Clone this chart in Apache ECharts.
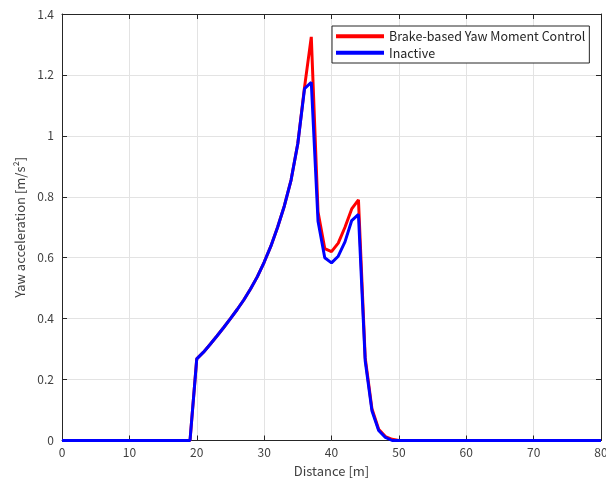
<!DOCTYPE html>
<html>
<head>
<meta charset="utf-8">
<style>
  html, body { margin: 0; padding: 0; background: #ffffff; }
  #chart { width: 606px; height: 484px; }
</style>
<script src="https://cdn.jsdelivr.net/npm/echarts@6/dist/echarts.min.js"></script>
</head>
<body>
<div id="chart"></div>
<script>
// Distance samples [m]
const distance = [0, 19,
  20, 21, 22, 23, 24, 25, 26, 27, 28, 29,
  30, 31, 32, 33, 34, 35, 36, 37, 38, 39,
  40, 41, 42, 43, 44, 45, 46, 47, 48, 49,
  50, 80];

// Yaw acceleration [m/s^2] with brake-based yaw moment control
const brakeControl = [0, 0,
  0.268, 0.290, 0.316, 0.343, 0.371, 0.400, 0.430, 0.462, 0.498, 0.538,
  0.585, 0.638, 0.700, 0.770, 0.855, 0.975, 1.160, 1.325, 0.750, 0.630,
  0.620, 0.648, 0.700, 0.760, 0.790, 0.272, 0.104, 0.037, 0.013, 0.004,
  0, 0];

// Yaw acceleration [m/s^2] with control inactive
const inactive = [0, 0,
  0.268, 0.290, 0.316, 0.343, 0.371, 0.400, 0.430, 0.462, 0.498, 0.538,
  0.585, 0.638, 0.700, 0.770, 0.855, 0.975, 1.155, 1.176, 0.720, 0.600,
  0.583, 0.605, 0.652, 0.722, 0.742, 0.262, 0.098, 0.033, 0.010, 0,
  0, 0];

const seriesNames = ['Brake-based Yaw Moment Control', 'Inactive'];

const FONT = '"Noto Sans CJK JP", "Noto Sans", sans-serif';
const AXIS_COLOR = '#262626';
const LABEL_COLOR = '#404040';
const GRID_COLOR = '#e3e3e3';

const pairs = (xs, ys) => xs.map((x, i) => [x, ys[i]]);

const chart = echarts.init(document.getElementById('chart'), null, { renderer: 'canvas' });

const baseAxis = {
  axisLine: { show: true, onZero: false, lineStyle: { color: AXIS_COLOR, width: 1 } },
  axisTick: { show: true, inside: true, length: 5, lineStyle: { color: AXIS_COLOR } },
  splitLine: { show: true, lineStyle: { color: GRID_COLOR, width: 1 } }
};

chart.setOption({
  animation: false,
  backgroundColor: '#ffffff',
  textStyle: { fontFamily: FONT },
  grid: { left: 62, right: 5, top: 14, bottom: 43.5, containLabel: false, outerBoundsMode: 'none' },
  legend: {
    data: seriesNames,
    orient: 'vertical',
    left: 332,
    top: 26,
    itemWidth: 48,
    itemHeight: 4,
    itemGap: 4,
    padding: [4, 4, 4, 4],
    borderColor: AXIS_COLOR,
    borderWidth: 1,
    backgroundColor: '#ffffff',
    icon: 'rect',
    textStyle: { fontFamily: FONT, fontSize: 12.5, color: '#262626' }
  },
  xAxis: [
    Object.assign({}, baseAxis, {
      type: 'value', min: 0, max: 80, interval: 10, position: 'bottom',
      name: 'Distance [m]', nameLocation: 'middle', nameGap: 24,
      nameTextStyle: { fontFamily: FONT, fontSize: 13, color: LABEL_COLOR },
      axisLabel: { color: LABEL_COLOR, fontSize: 12, margin: 6, fontFamily: FONT }
    }),
    Object.assign({}, baseAxis, {
      type: 'value', min: 0, max: 80, interval: 10, position: 'top',
      axisLabel: { show: false }, splitLine: { show: false }
    })
  ],
  yAxis: [
    Object.assign({}, baseAxis, {
      type: 'value', min: 0, max: 1.4, interval: 0.2, position: 'left',
      name: 'Yaw acceleration [m/s²]', nameLocation: 'middle', nameGap: 32, nameRotate: 90,
      nameTextStyle: { fontFamily: FONT, fontSize: 13, color: LABEL_COLOR },
      axisLabel: { color: LABEL_COLOR, fontSize: 12, margin: 8, fontFamily: FONT }
    }),
    Object.assign({}, baseAxis, {
      type: 'value', min: 0, max: 1.4, interval: 0.2, position: 'right',
      axisLabel: { show: false }, splitLine: { show: false }
    })
  ],
  series: [
    {
      name: seriesNames[0], type: 'line', xAxisIndex: 0, yAxisIndex: 0,
      data: pairs(distance, brakeControl),
      showSymbol: false, symbol: 'none',
      lineStyle: { color: '#ff0000', width: 3 },
      itemStyle: { color: '#ff0000' },
      z: 2
    },
    {
      name: seriesNames[1], type: 'line', xAxisIndex: 0, yAxisIndex: 0,
      data: pairs(distance, inactive),
      showSymbol: false, symbol: 'none',
      lineStyle: { color: '#0000ff', width: 3 },
      itemStyle: { color: '#0000ff' },
      z: 3
    }
  ]
});
</script>
</body>
</html>
